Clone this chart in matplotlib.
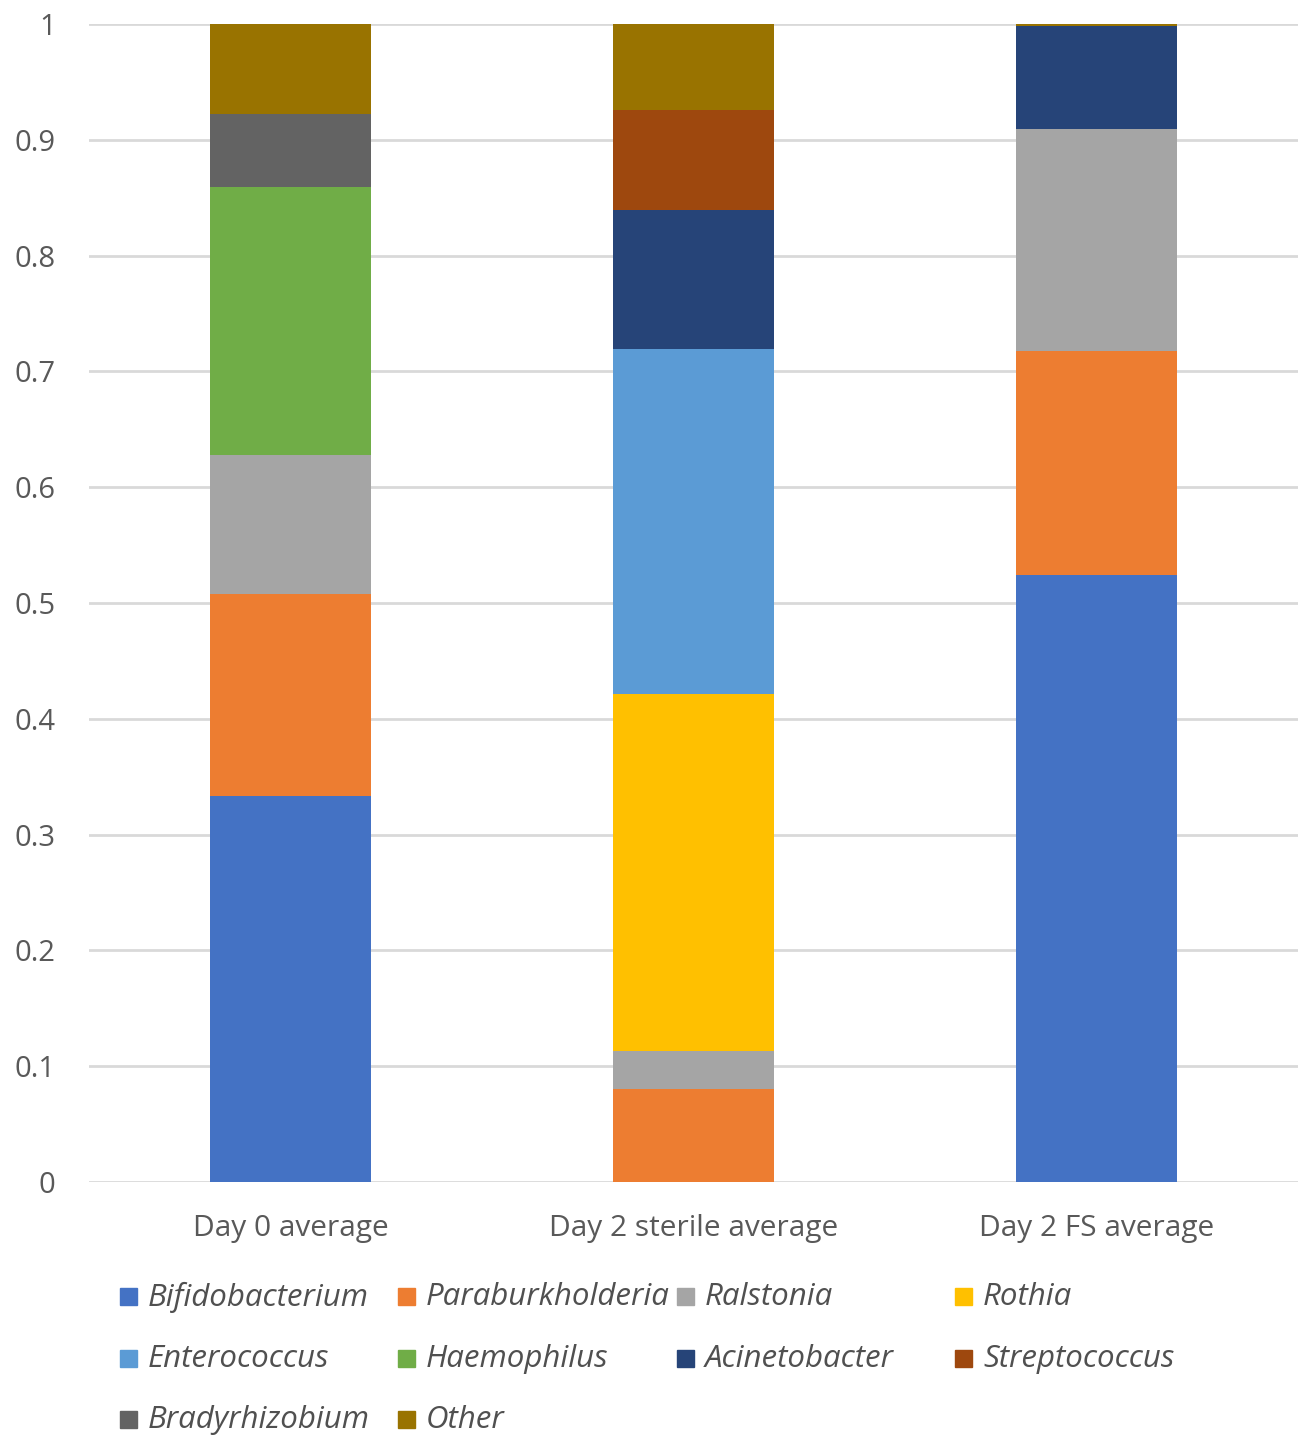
import matplotlib.pyplot as plt
import numpy as np
from matplotlib.patches import Rectangle

plt.rcParams['font.family'] = ['Open Sans', 'DejaVu Sans']

# samples (x axis)
samples = ['Day 0 average', 'Day 2 sterile average', 'Day 2 FS average']

# genera in stacking order (bottom -> top)
genera = ['Bifidobacterium', 'Paraburkholderia', 'Ralstonia', 'Rothia',
          'Enterococcus', 'Haemophilus', 'Acinetobacter', 'Streptococcus',
          'Bradyrhizobium', 'Other']

# relative abundance per genus, one value per sample
bifidobacterium  = [0.333, 0.000, 0.524]
paraburkholderia = [0.175, 0.080, 0.194]
ralstonia        = [0.120, 0.033, 0.191]
rothia           = [0.000, 0.308, 0.000]
enterococcus     = [0.000, 0.298, 0.000]
haemophilus      = [0.231, 0.000, 0.000]
acinetobacter    = [0.000, 0.120, 0.089]
streptococcus    = [0.000, 0.087, 0.000]
bradyrhizobium   = [0.063, 0.000, 0.000]
other            = [0.078, 0.074, 0.002]

values = [bifidobacterium, paraburkholderia, ralstonia, rothia, enterococcus,
          haemophilus, acinetobacter, streptococcus, bradyrhizobium, other]

colors = ['#4472C4', '#ED7D31', '#A5A5A5', '#FFC000', '#5B9BD5',
          '#70AD47', '#264478', '#9E480E', '#636363', '#997300']

fig = plt.figure(figsize=(12.98, 14.36), dpi=100)
ax = fig.add_axes([0.0686, 1 - 1182 / 1436, 1 - 0.0686, (1182 - 24) / 1436])

x = np.arange(len(samples))
bottom = np.zeros(len(samples))
for name, vals, c in zip(genera, values, colors):
    ax.bar(x, vals, width=0.4, bottom=bottom, color=c, label=name, zorder=3)
    bottom += np.array(vals)

ax.set_xlim(-0.5, 2.5)
ax.set_ylim(0, 1)
ax.set_yticks(np.arange(0, 1.01, 0.1))
ax.set_yticklabels(['0', '0.1', '0.2', '0.3', '0.4', '0.5', '0.6', '0.7', '0.8', '0.9', '1'])
ax.set_xticks(x)
ax.set_xticklabels(samples)
ax.grid(axis='y', color='#d9d9d9', linewidth=2, zorder=0)
for s in ax.spines.values():
    s.set_visible(False)
ax.tick_params(axis='y', length=0, labelsize=21, colors='#595959', pad=24)
ax.tick_params(axis='x', length=0, labelsize=21.5, colors='#595959', pad=23)
for lbl in ax.get_yticklabels():
    lbl.set_horizontalalignment('right')

# legend, 4 columns, row-wise order
col_x = [120, 398, 677, 955]
row_y = [1297, 1359, 1420]
W, H = 1298, 1436
for i, (name, c) in enumerate(zip(genera, colors)):
    r, k = divmod(i, 4)
    px, py = col_x[k], row_y[r]
    fig.patches.append(Rectangle((px / W, 1 - (py + 8) / H), 17 / W, 17 / H,
                                 transform=fig.transFigure, color=c))
    fig.text((px + 28) / W, 1 - py / H, name, fontsize=22.5, style='italic',
             color='#505050', va='center', ha='left')

fig.savefig('out.png', dpi=100)
